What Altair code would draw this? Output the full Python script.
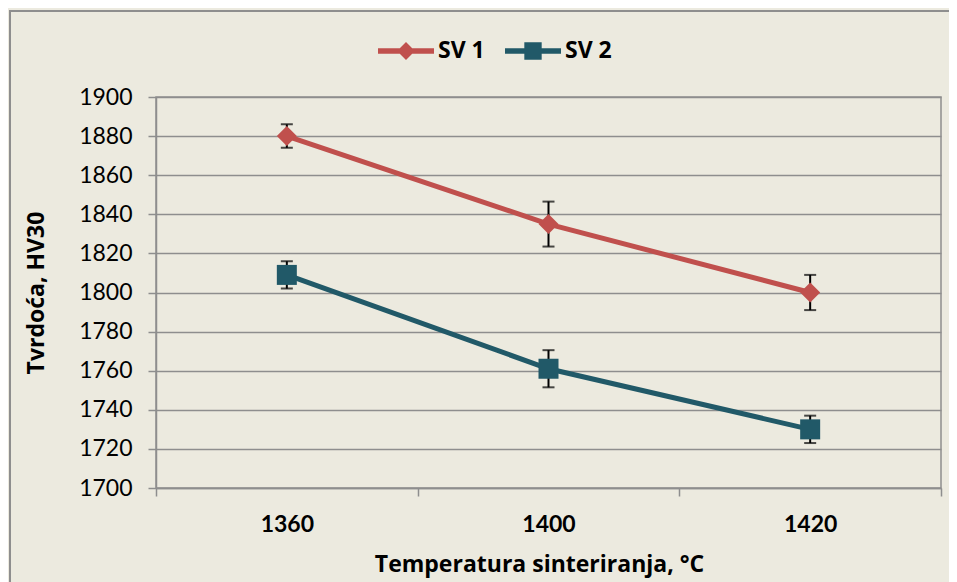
import altair as alt
import pandas as pd

# ---- data ----
temps = ["1360", "1400", "1420"]
series_names = ["SV 1", "SV 2"]
sv1 = [1880, 1835, 1800]
sv1_err = [6, 11.5, 9]
sv2 = [1809, 1761, 1730]
sv2_err = [7, 9.5, 7]
y_ticks = list(range(1700, 1901, 20))

colors = ["#C0504D", "#215968"]
shapes = ["diamond", "square"]
legend_paths = [
    "M-1,-0.1L1,-0.1L1,0.1L-1,0.1Z M0,-0.32L0.32,0L0,0.32L-0.32,0Z",
    "M-1,-0.1L1,-0.1L1,0.1L-1,0.1Z M-0.31,-0.31L0.31,-0.31L0.31,0.31L-0.31,0.31Z",
]

rows = []
for name, vals, errs, c, s in zip(series_names, [sv1, sv2], [sv1_err, sv2_err], colors, shapes):
    for t, v, e in zip(temps, vals, errs):
        rows.append(dict(temp=t, series=name, value=v, lo=v - e, hi=v + e, clr=c, shp=s))
df = pd.DataFrame(rows)

FONT = "Lato"
TFONT = "Open Sans"
GRID = "#8E8E8E"
FS = 23

x_enc = alt.X(
    "temp:O",
    sort=temps,
    scale=alt.Scale(domain=temps, paddingInner=0, paddingOuter=0),
    axis=alt.Axis(
        title="Temperatura sinteriranja, °C",
        tickBand="extent",
        labelAngle=0,
        labelFontWeight="bold",
        labelPadding=17,
        titleX=383,
        titleY=83,
        titleBaseline="alphabetic",
        titleAlign="center",
        grid=False,
    ),
)
y_scale = alt.Scale(domain=[1700, 1900], nice=False, zero=False)
y_axis = alt.Axis(
    title="Tvrdoća, HV30",
    values=y_ticks,
    format="d",
    labelPadding=16,
    titleX=-113,
    titleY=195.5,
    titleAngle=270,
    titleBaseline="alphabetic",
    titleAlign="center",
    grid=True,
)

base = alt.Chart(df)

border = alt.Chart(pd.DataFrame({"a": [0]})).mark_rect(
    fillOpacity=0, stroke=GRID, strokeWidth=2
).encode(
    x=alt.value(-146), x2=alt.value(820), y=alt.value(-86), y2=alt.value(540)
)

err_rule = base.mark_rule(color="black", strokeWidth=2).encode(
    x=x_enc, y=alt.Y("lo:Q", scale=y_scale, axis=y_axis), y2="hi:Q"
)
cap_lo = base.mark_tick(color="black", size=12, thickness=2, orient="horizontal").encode(
    x=x_enc, y=alt.Y("lo:Q", scale=y_scale, axis=y_axis)
)
cap_hi = base.mark_tick(color="black", size=12, thickness=2, orient="horizontal").encode(
    x=x_enc, y=alt.Y("hi:Q", scale=y_scale, axis=y_axis)
)

lines = base.mark_line(strokeWidth=5).encode(
    x=x_enc,
    y=alt.Y("value:Q", scale=y_scale, axis=y_axis),
    color=alt.Color("clr:N", scale=None),
    detail="series:N",
)

points = base.mark_point(filled=True, size=400, opacity=1).encode(
    x=x_enc,
    y=alt.Y("value:Q", scale=y_scale, axis=y_axis),
    color=alt.Color("clr:N", scale=None),
    shape=alt.Shape("shp:N", scale=None),
)

leg = alt.Legend(
    title=None,
    orient="none",
    direction="horizontal",
    legendX=222,
    legendY=-74,
    padding=0,
    symbolSize=3136,
    symbolStrokeWidth=0,
    symbolOpacity=1,
    labelFont=TFONT,
    labelFontSize=FS,
    labelFontWeight="bold",
    labelColor="black",
    labelOffset=4,
    columnPadding=20,
)

legend_layer = base.transform_filter("false").mark_point(filled=True, opacity=1).encode(
    x=x_enc,
    y=alt.Y("value:Q", scale=y_scale, axis=y_axis),
    color=alt.Color("series:N", scale=alt.Scale(domain=series_names, range=colors), legend=leg),
    shape=alt.Shape("series:N", scale=alt.Scale(domain=series_names, range=legend_paths), legend=leg),
)

chart = (
    alt.layer(border, err_rule, cap_lo, cap_hi, lines, points, legend_layer)
    .properties(
        width=785,
        height=391,
        autosize=alt.AutoSizeParams(type="none"),
        padding={"left": 148, "top": 89, "right": 8, "bottom": 94},
        background="#ECEADF",
    )
    .configure_view(stroke=GRID, strokeWidth=1.5)
    .configure_axis(
        labelFont=FONT,
        labelFontSize=FS,
        labelColor="black",
        titleFont=TFONT,
        titleFontSize=FS,
        titleFontWeight="bold",
        titleColor="black",
        domainColor=GRID,
        domainWidth=1.5,
        tickColor=GRID,
        tickWidth=1.5,
        tickSize=8,
        gridColor=GRID,
        gridWidth=1.5,
        gridOpacity=1,
    )
)

chart.save("out.html", embed_options={"renderer": "svg", "actions": False})
